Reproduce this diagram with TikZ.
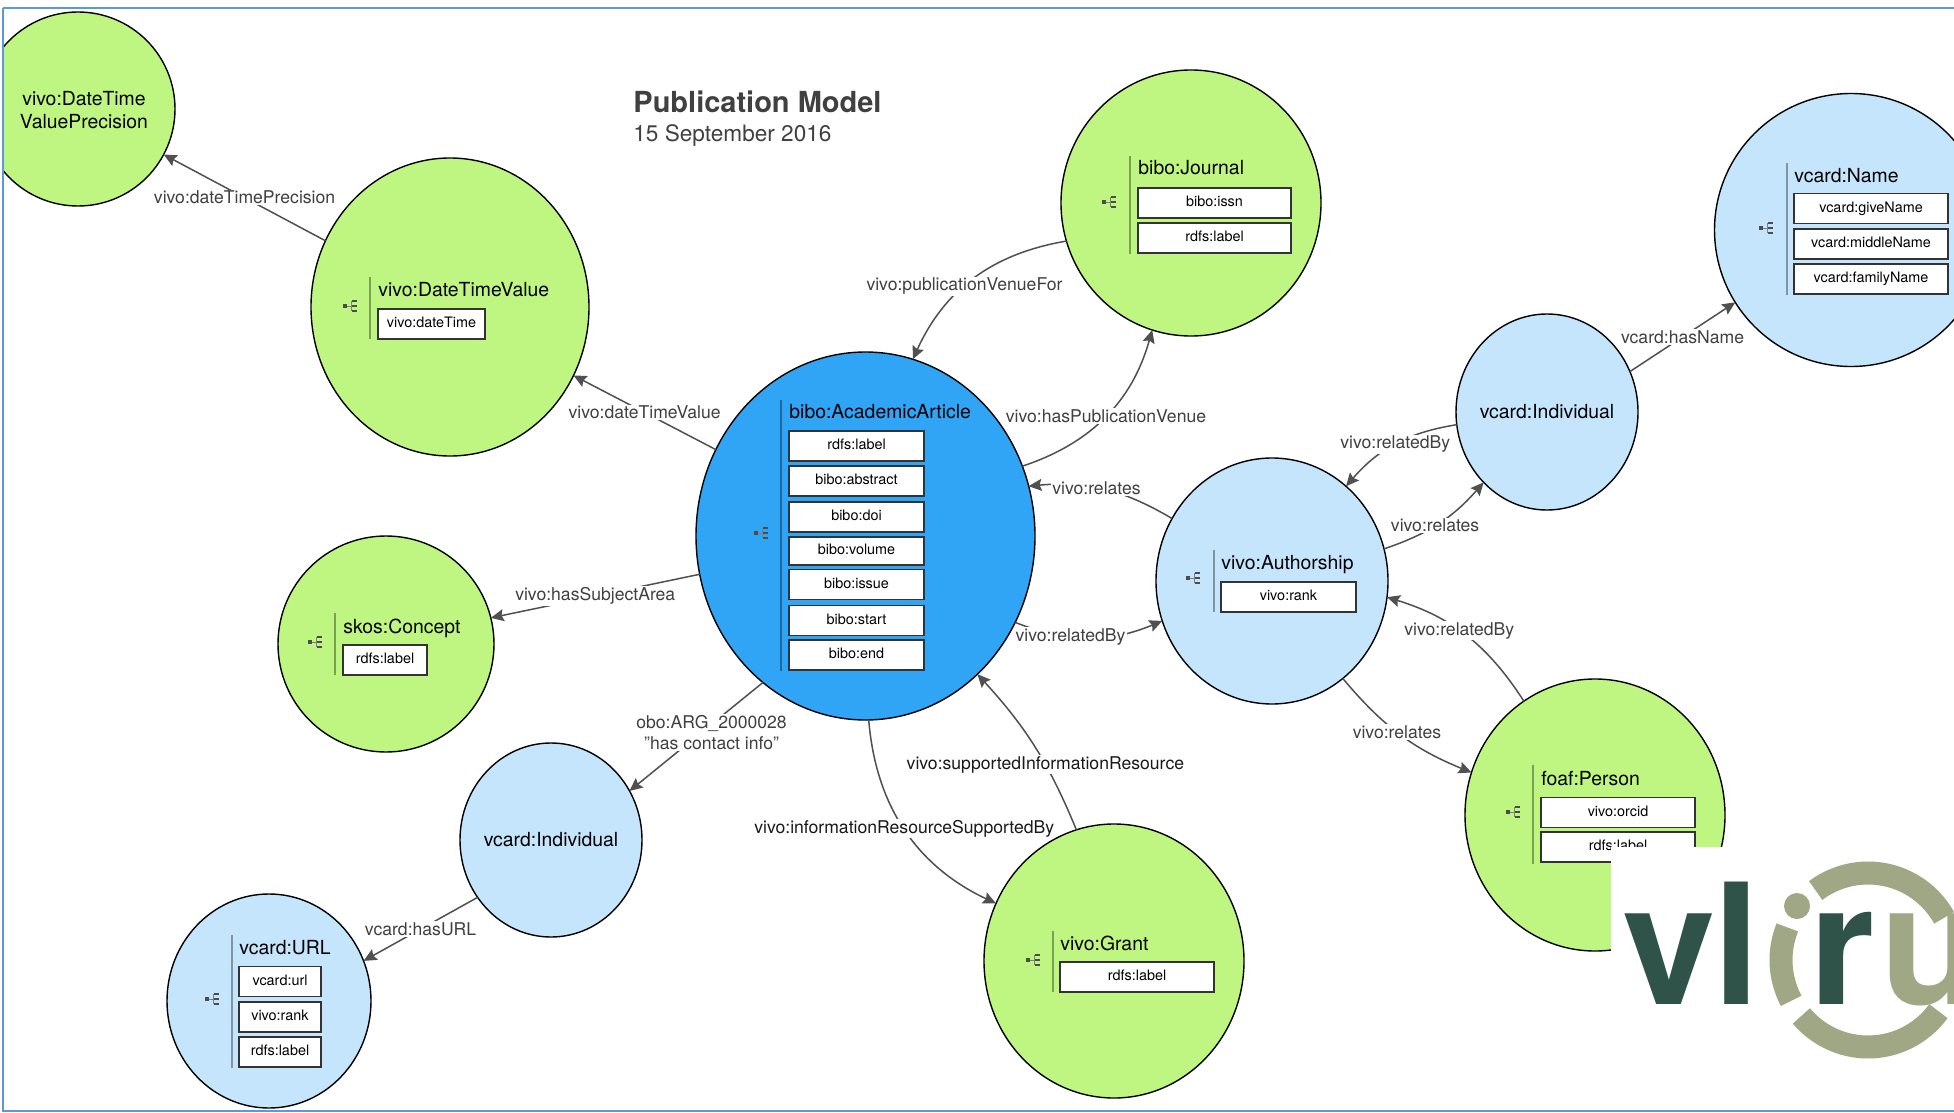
\documentclass[tikz,border=0pt]{standalone}
\usepackage{fontspec}
\setmainfont{TeX Gyre Heros}
\usepackage{tikz}
\usetikzlibrary{shapes.geometric, arrows.meta}

\definecolor{classgreen}{HTML}{BFF681}
\definecolor{classblue}{HTML}{C5E5FD}
\definecolor{mainblue}{HTML}{31A5F5}
\definecolor{framecol}{HTML}{5B9BD5}
\definecolor{linkcol}{HTML}{505050}
\definecolor{logodark}{HTML}{2F5249}
\definecolor{logolight}{HTML}{A0A785}

\tikzset{
  cls/.style={ellipse, draw=black, line width=0.7pt, inner sep=0pt, outer sep=0pt},
  clstext/.style={inner sep=0pt, align=center, font=\fontsize{9.7}{11.8}\selectfont},
  attr/.style={rectangle, draw=black!80, fill=white, line width=0.6pt, inner sep=0pt, minimum height=15pt, text height=5.2pt, text depth=1.5pt, font=\fontsize{7.2}{9}\selectfont},
  ctitle/.style={anchor=west, inner sep=0pt, text height=9pt, text depth=2pt, font=\fontsize{9.7}{11}\selectfont},
  link/.style={draw=linkcol, line width=0.75pt, -{Stealth[length=6.5pt,width=6pt,inset=1pt]}},
  lab/.style={fill=white, inner sep=0.6pt, text=black!75, align=center, font=\fontsize{8.8}{10.6}\selectfont},
  ringarc/.style={draw=logolight, line width=11.5pt},
  logotxt/.style={anchor=base, inner sep=0pt, font=\fontsize{84}{84}\bfseries\selectfont},
  divider/.style={draw=black, draw opacity=0.35, line width=0.7pt},
  treeicon/.pic={
    \fill[black!70] (-8,-2) rectangle (-4,2);
    \draw[black!50, line width=0.25pt] (-4,0)--(0,0) (0,-5)--(0,5);
    \foreach \yb in {-5,0,5} {\fill[black!70] (1,\yb-1.2) rectangle (6,\yb+1.2);}
  }
}

\begin{document}
\begin{tikzpicture}[x=0.5pt, y=-0.5pt]
\useasboundingbox (0,0) rectangle (1954,1113);
\fill[white] (0,0) rectangle (1954,1113);

\begin{scope}
\clip (3,8) rectangle (1954,1110);

% classes
\node[cls, fill=classgreen, minimum width=97pt, minimum height=97pt] (precision) at (78,109) {};
\node[cls, fill=classgreen, minimum width=139pt, minimum height=149pt] (datevalue) at (450,307) {};
\node[cls, fill=mainblue, minimum width=169.5pt, minimum height=184pt] (article) at (865.5,536) {};
\node[cls, fill=classgreen, minimum width=130pt, minimum height=133pt] (journal) at (1191,203) {};
\node[cls, fill=classblue, minimum width=136.5pt, minimum height=136.5pt] (vname) at (1851,230) {};
\node[cls, fill=classblue, minimum width=91pt, minimum height=98pt] (indivright) at (1547,412) {};
\node[cls, fill=classblue, minimum width=116pt, minimum height=123pt] (authorship) at (1272,581) {};
\node[cls, fill=classgreen, minimum width=130pt, minimum height=136pt] (person) at (1595,815) {};
\node[cls, fill=classgreen, minimum width=108pt, minimum height=108pt] (concept) at (386,644) {};
\node[cls, fill=classblue, minimum width=91pt, minimum height=97pt] (indivleft) at (551,840) {};
\node[cls, fill=classblue, minimum width=102pt, minimum height=107pt] (vurl) at (269,1001) {};
\node[cls, fill=classgreen, minimum width=130pt, minimum height=137pt] (grant) at (1114,961) {};

\node[clstext] (precisiontext) at (84,110) {vivo:DateTime\\ValuePrecision};
\node[clstext] (indivrighttext) at (1547,412) {vcard:Individual};
\node[clstext] (indivlefttext) at (551,840) {vcard:Individual};

% links
\draw[link] (datevalue.152) -- node[lab] {vivo:dateTimePrecision} (precision.-28);
\draw[link] (article.150) -- node[lab] {vivo:dateTimeValue} (datevalue.-29);
\draw[link] (article.193) -- node[lab] {vivo:hasSubjectArea} (concept.14);
\draw[link] (article.235) -- node[lab, pos=0.46, xshift=5pt] {obo:ARG\_2000028\\"has contact info"} (indivleft.32);
\draw[link] (indivleft.218) -- node[lab] {vcard:hasURL} (vurl.23);
\draw[link] (journal.197) to[bend right=28] node[lab, pos=0.56] {vivo:publicationVenueFor} (article.75);
\draw[link] (article.24) to[bend right=28] node[lab, pos=0.5] {vivo:hasPublicationVenue} (journal.253);
\draw[link] (authorship.148) to[bend right=18] node[lab, pos=0.55] {vivo:relates} (article.17);
\draw[link] (article.-30) to[bend right=22] node[lab, pos=0.37] {vivo:relatedBy} (authorship.200);
\draw[link] (grant.106) to[bend right=10] node[lab, pos=0.38, text=black!90] {vivo:supportedInformationResource} (article.-51);
\draw[link] (article.-89) to[bend right=30] node[lab, pos=0.49, text=black!90] {vivo:informationResourceSupportedBy} (grant.154);
\draw[link] (authorship.16) to[bend right=15] node[lab, pos=0.46] {vivo:relates} (indivright.228);
\draw[link] (indivright.188) to[bend right=20] node[lab, pos=0.5] {vivo:relatedBy} (authorship.52);
\draw[link] (indivright.26) -- node[lab] {vcard:hasName} (vname.212);
\draw[link] (person.122) to[bend right=20] node[lab, pos=0.55] {vivo:relatedBy} (authorship.-8);
\draw[link] (authorship.-54) to[bend right=14] node[lab, pos=0.47] {vivo:relates} (person.161);

% heading
\node[anchor=west, inner sep=0pt, text=black!75, font=\fontsize{14.5}{16}\bfseries\selectfont] (heading) at (633,102) {Publication Model};
\node[anchor=west, inner sep=0pt, text=black!75, font=\fontsize{11.3}{13}\selectfont] (headdate) at (633,136) {15 September 2016};

% vivo:DateTimeValue
\draw[divider] (370,277)--(370,339);
\pic at (351,306) {treeicon};
\node[ctitle] (datevaluetitle) at (378,289) {vivo:DateTimeValue};
\node[attr, minimum width=53.5pt] (datetimeattr) at (431.5,324) {vivo:dateTime};

% bibo:AcademicArticle
\draw[divider] (781,400)--(781,671);
\pic at (762,533) {treeicon};
\node[ctitle] (articletitle) at (789,411) {bibo:AcademicArticle};
\node[attr, minimum width=67.5pt] (artlabel) at (856.5,446) {rdfs:label};
\node[attr, minimum width=67.5pt] (artabstract) at (856.5,481) {bibo:abstract};
\node[attr, minimum width=67.5pt] (artdoi) at (856.5,517) {bibo:doi};
\node[attr, minimum width=67.5pt, minimum height=14pt] (artvolume) at (856.5,551) {bibo:volume};
\node[attr, minimum width=67.5pt] (artissue) at (856.5,584.5) {bibo:issue};
\node[attr, minimum width=67.5pt] (artstart) at (856.5,620.5) {bibo:start};
\node[attr, minimum width=67.5pt] (artend) at (856.5,655) {bibo:end};

% bibo:Journal
\draw[divider] (1130,156)--(1130,254);
\pic at (1110,202) {treeicon};
\node[ctitle] (journaltitle) at (1138,168) {bibo:Journal};
\node[attr, minimum width=76.5pt] (journalissn) at (1214.5,203) {bibo:issn};
\node[attr, minimum width=76.5pt] (journallabel) at (1214.5,238) {rdfs:label};

% vcard:Name
\draw[divider] (1787,163)--(1787,295);
\pic at (1767,228) {treeicon};
\node[ctitle] (vnametitle) at (1794,176) {vcard:Name};
\node[attr, minimum width=77pt] (vnamegiven) at (1871,208.5) {vcard:giveName};
\node[attr, minimum width=77pt] (vnamemiddle) at (1871,244) {vcard:middleName};
\node[attr, minimum width=77pt] (vnamefamily) at (1871,279) {vcard:familyName};

% vivo:Authorship
\draw[divider] (1214,550)--(1214,612);
\pic at (1194,578) {treeicon};
\node[ctitle] (authorshiptitle) at (1221,562) {vivo:Authorship};
\node[attr, minimum width=67.5pt] (authorshiprank) at (1288.5,597) {vivo:rank};

% foaf:Person
\draw[divider] (1533,765)--(1533,864);
\pic at (1514,812) {treeicon};
\node[ctitle] (persontitle) at (1541,778) {foaf:Person};
\node[attr, minimum width=77pt] (personorcid) at (1618,812.5) {vivo:orcid};
\node[attr, minimum width=77pt] (personlabel) at (1618,847) {rdfs:label};

% skos:Concept
\draw[divider] (335,613)--(335,675);
\pic at (316,642) {treeicon};
\node[ctitle] (concepttitle) at (343,626) {skos:Concept};
\node[attr, minimum width=42pt] (conceptlabel) at (385,660) {rdfs:label};

% vcard:URL
\draw[divider] (232,935)--(232,1068);
\pic at (213,999) {treeicon};
\node[ctitle] (vurltitle) at (239,947) {vcard:URL};
\node[attr, minimum width=41pt] (vurlurl) at (280,981.5) {vcard:url};
\node[attr, minimum width=41pt] (vurlrank) at (280,1017) {vivo:rank};
\node[attr, minimum width=41pt] (vurllabel) at (280,1052) {rdfs:label};

% vivo:Grant
\draw[divider] (1053,931)--(1053,992);
\pic at (1034,960) {treeicon};
\node[ctitle] (granttitle) at (1060,943) {vivo:Grant};
\node[attr, minimum width=77pt] (grantlabel) at (1137,977) {rdfs:label};

% logo
\fill[white] (1611,847) rectangle (1954,1108);
\coordinate (logoc) at (1868,960);
\draw[ringarc] ([shift={(127:43.5pt)}]logoc) arc[start angle=127, end angle=29, radius=43.5pt];
\draw[ringarc] ([shift={(158:43.5pt)}]logoc) arc[start angle=158, end angle=208, radius=43.5pt];
\draw[ringarc] ([shift={(220:43.5pt)}]logoc) arc[start angle=220, end angle=324, radius=43.5pt];
\fill[logolight] (1797,906) circle[radius=6.5pt];
\node[logotxt, text=logodark] (logov) at (1669,1004) {v};
\node[logotxt, text=logodark] (logol) at (1737,1004) {l};
\node[logotxt, text=logodark] (logor) at (1842,1004) {r};
\node[logotxt, text=logolight, anchor=base west] (logou) at (1880,1004) {u};
\end{scope}

\draw[framecol, line width=1pt] (3,8) -- (1954,8) (3,8) -- (3,1111) -- (1954,1111);
\end{tikzpicture}
\end{document}
